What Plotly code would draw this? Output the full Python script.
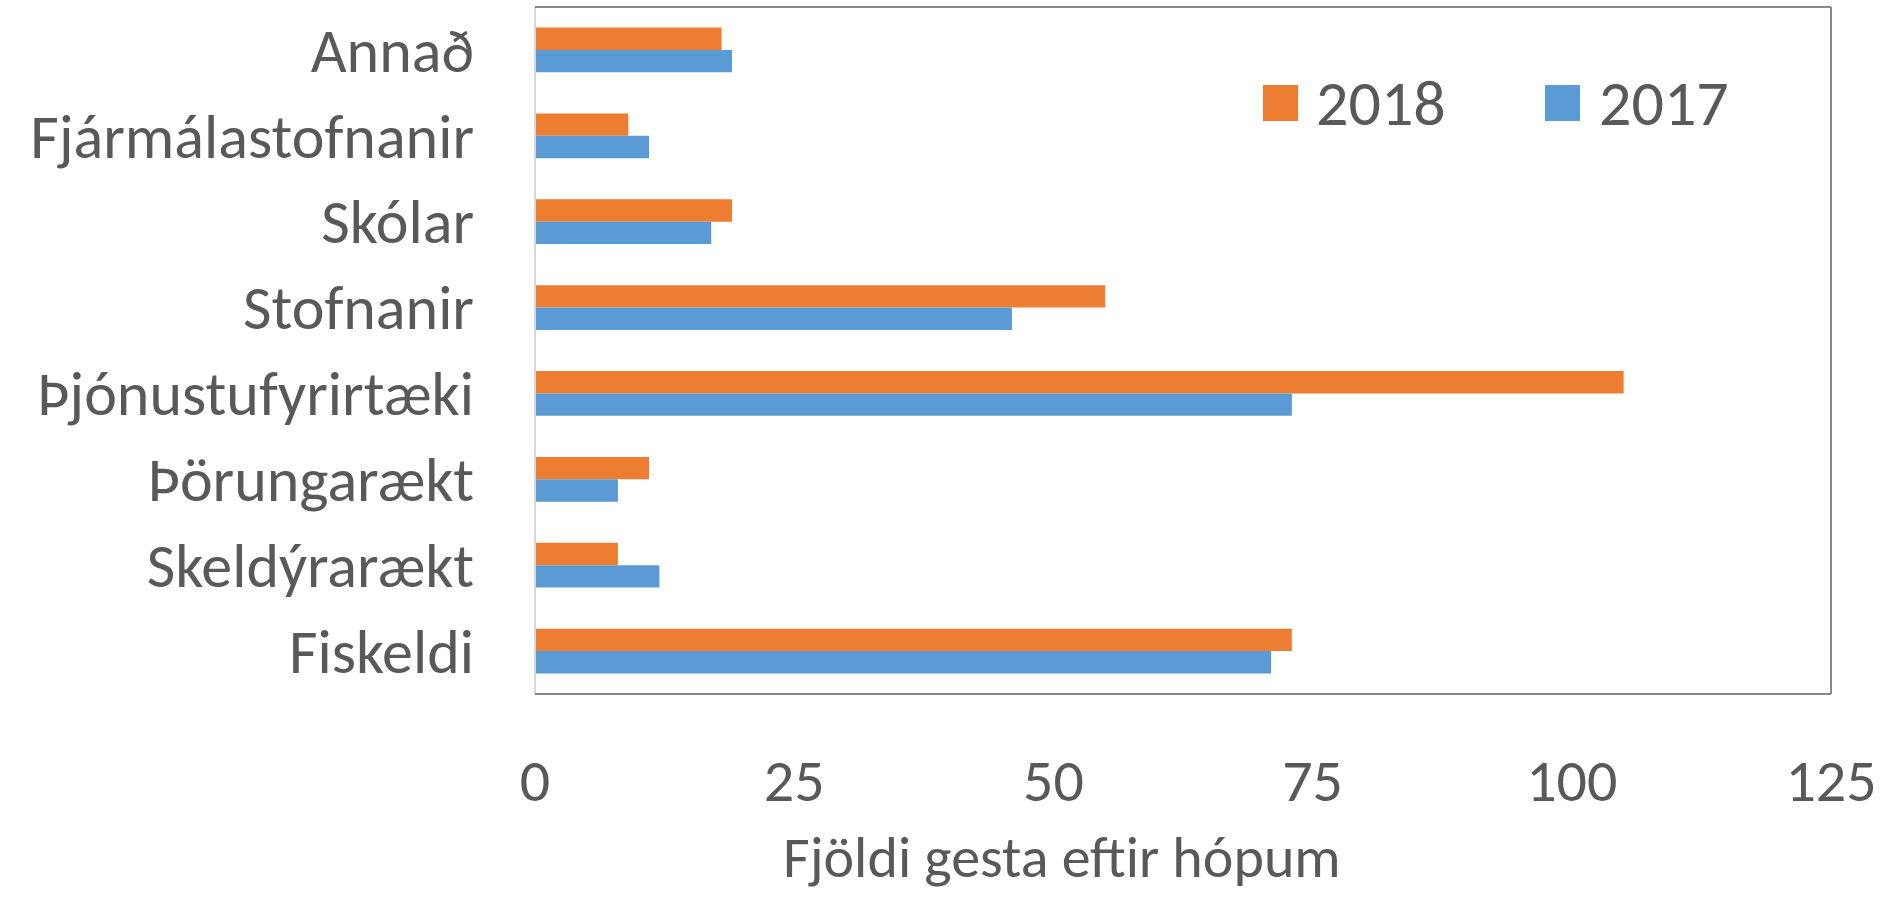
import plotly.graph_objects as go

categories = ["Annað", "Fjármálastofnanir", "Skólar", "Stofnanir",
              "Þjónustufyrirtæki", "Þörungarækt", "Skeldýrarækt", "Fiskeldi"]
values_2018 = [18, 9, 19, 55, 105, 11, 8, 73]
values_2017 = [19, 11, 17, 46, 73, 8, 12, 71]
series_names = ["2018", "2017"]
x_ticks = [0, 25, 50, 75, 100, 125]
axis_title = "Fjöldi gesta eftir hópum"

ORANGE = "#ED7D31"
BLUE = "#5B9BD5"
TEXT = "#595959"
FONT = "Calibri, Carlito, Lato, sans-serif"

W, H = 1893, 898
L, R, T, B = 535, 62, 7, 204
PW, PH = W - L - R, H - T - B

fig = go.Figure()
fig.add_trace(go.Bar(y=categories, x=values_2018, name=series_names[0], orientation="h",
                     marker=dict(color=ORANGE, line=dict(width=0)), showlegend=False))
fig.add_trace(go.Bar(y=categories, x=values_2017, name=series_names[1], orientation="h",
                     marker=dict(color=BLUE, line=dict(width=0)), showlegend=False))

def px_x(p):
    return (p - L) / PW

def px_y(p):
    return 1 - (p - T) / PH

shapes = []
# plot frame
shapes.append(dict(type="line", xref="paper", yref="paper", x0=0, x1=0, y0=0, y1=1,
                   line=dict(color="#D9D9D9", width=2)))
shapes.append(dict(type="line", xref="paper", yref="paper", x0=0, x1=1, y0=1, y1=1,
                   line=dict(color="#898989", width=2)))
shapes.append(dict(type="line", xref="paper", yref="paper", x0=1, x1=1, y0=0, y1=1,
                   line=dict(color="#898989", width=2)))
shapes.append(dict(type="line", xref="paper", yref="paper", x0=0, x1=1, y0=0, y1=0,
                   line=dict(color="#898989", width=2)))

# legend
legend_items = [(series_names[0], ORANGE, 1263, 1314), (series_names[1], BLUE, 1545, 1597)]
annotations = []
for name, col, sx, tx in legend_items:
    shapes.append(dict(type="rect", xref="paper", yref="paper",
                       x0=px_x(sx), x1=px_x(sx + 35), y0=px_y(121), y1=px_y(85),
                       fillcolor=col, line=dict(width=0)))
    annotations.append(dict(xref="paper", yref="paper", x=px_x(tx), y=px_y(103),
                            xanchor="left", yanchor="middle", text=name, showarrow=False,
                            font=dict(size=64, color=TEXT, family=FONT)))

annotations.append(dict(xref="paper", yref="paper", x=px_x(1062), y=px_y(857),
                        xanchor="center", yanchor="middle", text=axis_title, showarrow=False,
                        font=dict(size=58, color=TEXT, family=FONT)))

fig.update_layout(
    width=W, height=H,
    margin=dict(l=L, r=R, t=T, b=B, pad=0),
    paper_bgcolor="white", plot_bgcolor="white",
    barmode="group", bargap=0.48, bargroupgap=0,
    font=dict(family=FONT, color=TEXT, size=62),
    showlegend=False,
    shapes=shapes, annotations=annotations,
    xaxis=dict(range=[0, 125], tickvals=x_ticks, showgrid=False, zeroline=False,
               showline=False, ticks="", ticklabelstandoff=46,
               tickfont=dict(size=60, color=TEXT, family=FONT)),
    yaxis=dict(autorange="reversed", showgrid=False, zeroline=False, showline=False,
               ticks="", ticklabelstandoff=60,
               tickfont=dict(size=62, color=TEXT, family=FONT)),
)

fig.write_html("out.html", config={"displayModeBar": False},
               post_script="document.body.style.margin='0';")
